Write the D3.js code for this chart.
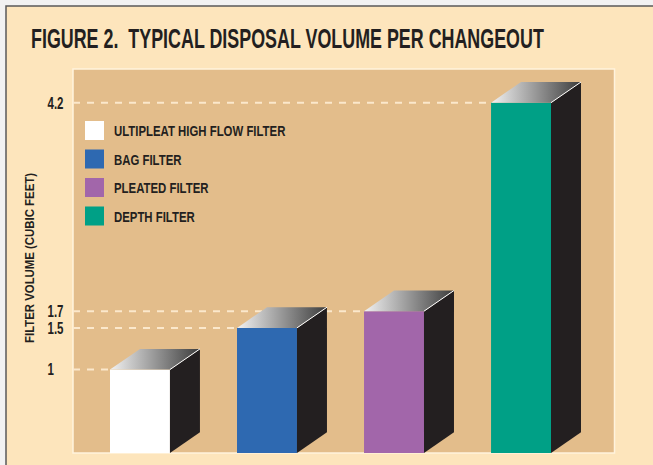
<!DOCTYPE html>
<html>
<head>
<meta charset="utf-8">
<script src="https://d3js.org/d3.v7.min.js"></script>
<style>
  body { margin: 0; background: #f2f2f2; }
  text { font-family: "Liberation Sans", Arial, sans-serif; font-weight: bold; fill: #231f20; }
</style>
</head>
<body>
<svg width="653" height="465"></svg>
<script>
var categories = ["ULTIPLEAT HIGH FLOW FILTER", "BAG FILTER", "PLEATED FILTER", "DEPTH FILTER"];
var volumes = [1, 1.5, 1.7, 4.2];
var barColors = ["#ffffff", "#2e69b1", "#a266aa", "#00a086"];
var tickValues = [1, 1.5, 1.7, 4.2];
var tickLabels = ["1", "1.5", "1.7", "4.2"];

var data = categories.map(function(c, i) {
  return { name: c, value: volumes[i], color: barColors[i] };
});

var svg = d3.select("svg");

// squeeze text horizontally to mimic the condensed face of the original
// (k below 1 narrows; pre is an extra transform such as a rotation)
function condense(sel, k, pre) {
  sel.each(function() {
    var t = d3.select(this);
    var tx = +t.attr("x") || 0, ty = +t.attr("y") || 0;
    t.attr("x", 0).attr("y", 0)
      .attr("transform", "translate(" + tx + "," + ty + ")" + (pre || "") + " scale(" + k + ",1)");
  });
}

// outer frame
svg.append("rect")
  .attr("x", 6).attr("y", 6)
  .attr("width", 660).attr("height", 470)
  .attr("fill", "#fde5bc")
  .attr("stroke", "#5a5a5a")
  .attr("stroke-width", 1.5);

var title = svg.append("text")
  .attr("x", 31)
  .attr("y", 48)
  .attr("font-size", "27.5px")
  .style("white-space", "pre")
  .text("FIGURE 2.  TYPICAL DISPOSAL VOLUME PER CHANGEOUT");
title.call(condense, 513 / title.node().getComputedTextLength());

var panel = { left: 73, right: 614.5, top: 69, bottom: 453 };

svg.append("rect")
  .attr("x", panel.left).attr("y", panel.top)
  .attr("width", panel.right - panel.left)
  .attr("height", panel.bottom - panel.top)
  .attr("fill", "#e3bd8b")
  .attr("stroke", "#fff3dd")
  .attr("stroke-width", 1.5);

var x = d3.scaleBand()
  .domain(categories)
  .range([110, 551])
  .paddingInner(0.528)
  .paddingOuter(0);

var y = d3.scaleLinear()
  .domain([0, 4.2])
  .range([panel.bottom, 102.7]);

var depthX = 30, depthY = 20.7;

var g = svg.append("g");

// dashed guides run from the panel edge to the bar
g.selectAll(".grid")
  .data(data)
  .enter().append("line")
  .attr("class", "grid")
  .attr("x1", panel.left)
  .attr("x2", function(d) { return x(d.name); })
  .attr("y1", function(d) { return y(d.value); })
  .attr("y2", function(d) { return y(d.value); })
  .attr("stroke", "#fbe8cc")
  .attr("stroke-width", 2)
  .attr("stroke-dasharray", "7,7");

g.selectAll(".tick")
  .data(tickValues)
  .enter().append("text")
  .attr("class", "tick")
  .attr("x", 47.5)
  .attr("y", function(d) { return y(d) + 5.8; })
  .attr("font-size", "16px")
  .text(function(d, i) { return tickLabels[i]; })
  .call(condense, 0.72);

var ylab = svg.append("text")
  .attr("x", 34)
  .attr("y", 258)
  .attr("text-anchor", "middle")
  .attr("font-size", "13px")
  .text("FILTER VOLUME (CUBIC FEET)");
ylab.call(condense, 170 / ylab.node().getComputedTextLength(), " rotate(-90)");

var defs = svg.append("defs");
var grad = defs.append("linearGradient")
  .attr("id", "topGrad")
  .attr("x1", "0%").attr("x2", "100%")
  .attr("y1", "0%").attr("y2", "0%");
grad.append("stop").attr("offset", "0%").attr("stop-color", "#f2f2f2");
grad.append("stop").attr("offset", "100%").attr("stop-color", "#3c3c3c");

var bars = g.selectAll(".bar")
  .data(data)
  .enter().append("g")
  .attr("class", "bar");

bars.append("rect")
  .attr("x", function(d) { return x(d.name); })
  .attr("y", function(d) { return y(d.value); })
  .attr("width", x.bandwidth())
  .attr("height", function(d) { return y(0) - y(d.value); })
  .attr("fill", function(d) { return d.color; });

bars.append("path")
  .attr("fill", "#231f20")
  .attr("d", function(d) {
    var x1 = x(d.name) + x.bandwidth(), t = y(d.value), b = y(0);
    return "M" + x1 + "," + t + "L" + (x1 + depthX) + "," + (t - depthY) +
      "L" + (x1 + depthX) + "," + (b - depthY) + "L" + x1 + "," + b + "Z";
  });

bars.append("path")
  .attr("fill", "url(#topGrad)")
  .attr("d", function(d) {
    var x0 = x(d.name), x1 = x0 + x.bandwidth(), t = y(d.value);
    return "M" + x0 + "," + t + "L" + x1 + "," + t +
      "L" + (x1 + depthX) + "," + (t - depthY) + "L" + (x0 + depthX) + "," + (t - depthY) + "Z";
  });

bars.append("line")
  .attr("x1", function(d) { return x(d.name) + x.bandwidth(); })
  .attr("y1", function(d) { return y(d.value); })
  .attr("x2", function(d) { return x(d.name) + x.bandwidth() + depthX; })
  .attr("y2", function(d) { return y(d.value) - depthY; })
  .attr("stroke", "#ffffff")
  .attr("stroke-width", 1);

// legend
var legend = svg.append("g")
  .selectAll("g")
  .data(data)
  .enter().append("g")
  .attr("transform", function(d, i) { return "translate(85," + (121 + i * 28.5) + ")"; });

legend.append("rect")
  .attr("width", 19).attr("height", 19)
  .attr("fill", function(d) { return d.color; });

legend.append("text")
  .attr("x", 29)
  .attr("y", 15)
  .attr("font-size", "15.5px")
  .text(function(d) { return d.name; })
  .call(condense, 0.735);
</script>
</body>
</html>
